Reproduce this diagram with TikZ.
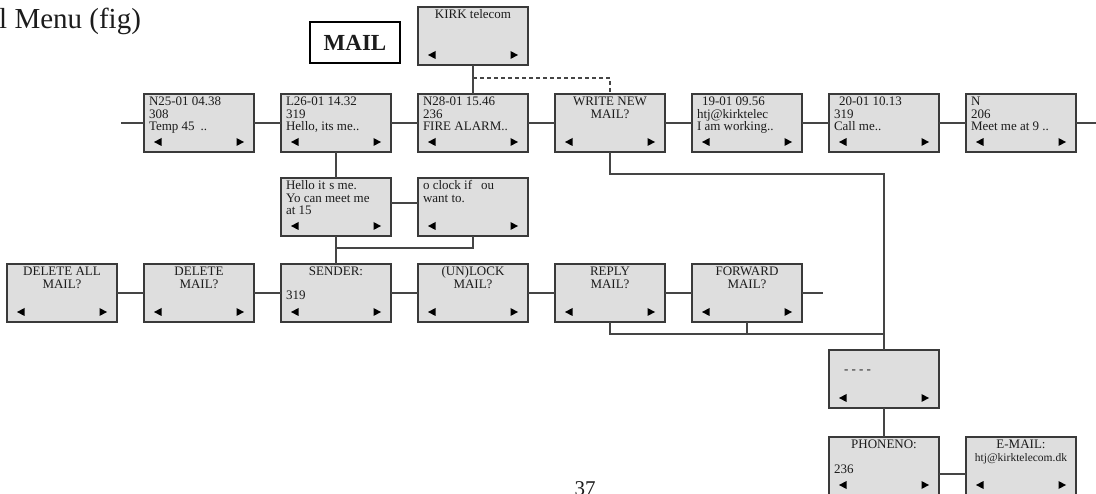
\documentclass[tikz,border=0pt]{standalone}
\usepackage{fontspec}
\setmainfont{Liberation Serif}
\definecolor{boxfill}{HTML}{DEDEDE}
\definecolor{boxline}{HTML}{3A3A3A}
\definecolor{wirec}{HTML}{454545}
\definecolor{ink}{HTML}{1C1C1C}
\newcommand\tstrut{\rule{0pt}{10pt}}
\tikzset{
 screen/.style={draw=boxline, fill=boxfill, line width=1.2pt, minimum width=110pt, minimum height=58pt,
   inner sep=0pt, outer sep=0pt, anchor=north west,
   path picture={
     \fill[black] ([xshift=10pt,yshift=10pt]path picture bounding box.south west) -- ++(7.5pt,4pt) -- ++(0pt,-8pt) -- cycle;
     \fill[black] ([xshift=-10pt,yshift=10pt]path picture bounding box.south east) -- ++(-7.5pt,4pt) -- ++(0pt,-8pt) -- cycle;}},
 scrtext/.style={inner sep=0pt, outer sep=0pt, text=ink, font=\fontsize{13}{12.3}\selectfont},
 lefttext/.style={scrtext, anchor=north west, align=left},
 midtext/.style={scrtext, anchor=north, align=center},
 wire/.style={draw=wirec, line width=1.2pt},
}
\newcommand\scrL[4]{\node[screen] (#1) at (#2,#3) {};
 \node[lefttext] (#1-t) at ([xshift=5pt,yshift=-2pt]#1.north west) {\tstrut #4};}
\newcommand\scrC[4]{\node[screen] (#1) at (#2,#3) {};
 \node[midtext] (#1-t) at ([yshift=-2pt]#1.north) {\tstrut #4};}
\begin{document}
\begin{tikzpicture}[x=1pt,y=-1pt]
\useasboundingbox (0,0) rectangle (1096,494);
\clip (0,0) rectangle (1096,494);

% title and page number
\node[anchor=base west, inner sep=0pt, text=ink, font=\fontsize{29}{29}\selectfont] (title) at (-1,29) {l Menu (fig)};
\node[anchor=base, inner sep=0pt, text=ink, font=\fontsize{21}{21}\selectfont] (pageno) at (585,496) {37};

% MAIL label
\node[draw=black, line width=2pt, fill=white, minimum width=90pt, minimum height=41pt, inner sep=0pt,
  text=ink, font=\fontsize{23}{23}\selectfont\bfseries] (mail) at (355,42.5) {MAIL};

% top screen
\scrC{kirk}{418}{7}{KIRK telecom}

% row 1
\scrL{n25}{144}{94}{N25-01 04.38\\308\\Temp 45\hspace{6pt}..}
\scrL{l26}{281}{94}{L26-01 14.32\\319\\Hello, its me..}
\scrL{n28}{418}{94}{N28-01 15.46\\236\\FIRE ALARM..}
\scrC{wnm}{555}{94}{WRITE NEW\\MAIL?}
\scrL{m19}{692}{94}{\hspace*{5pt}19-01 09.56\\htj@kirktelec\\I am working..}
\scrL{m20}{829}{94}{\hspace*{5pt}20-01 10.13\\319\\Call me..}
\scrL{mn}{966}{94}{N\\206\\Meet me at 9 ..}

% row 2
\scrL{hello}{281}{178}{Hello it\hspace{4pt}s me.\\Yo can meet me\\at 15}
\scrL{oclk}{418}{178}{o clock if\hspace{9pt}ou\\want to.}

% row 3
\scrC{dall}{7}{264}{DELETE ALL\\MAIL?}
\scrC{del}{144}{264}{DELETE\\MAIL?}
\scrC{snd}{281}{264}{SENDER:}
\node[scrtext, anchor=base west] (snd-n) at ([xshift=5pt,yshift=-36pt]snd.north west) {319};
\scrC{unl}{418}{264}{(UN)LOCK\\MAIL?}
\scrC{rep}{555}{264}{REPLY\\MAIL?}
\scrC{fwd}{692}{264}{FORWARD\\MAIL?}

% right column
\node[screen] (dsh) at (829,350) {};
\node[scrtext, anchor=base west] (dsh-t) at ([xshift=15pt,yshift=-24pt]dsh.north west) {- - - -};
\scrC{phn}{829}{437}{PHONENO:}
\node[scrtext, anchor=base west] (phn-n) at ([xshift=5pt,yshift=-36pt]phn.north west) {236};
\scrC{eml}{966}{437}{E-MAIL:\\{\fontsize{11.5}{12.3}\selectfont htj@kirktelecom.dk}}

% coordinates for free ends and junctions
\coordinate (lstart) at (121,123);
\coordinate (rend) at (1096,123);
\coordinate (dk) at (473,78);
\coordinate (j1) at (336,248);
\coordinate (j2) at (884,174);
\coordinate (j3) at (884,334);
\coordinate (fend) at (823,293);

% row 1 connectors
\draw[wire] (lstart) -- (n25.west);
\draw[wire] (n25.east) -- (l26.west);
\draw[wire] (l26.east) -- (n28.west);
\draw[wire] (n28.east) -- (wnm.west);
\draw[wire] (wnm.east) -- (m19.west);
\draw[wire] (m19.east) -- (m20.west);
\draw[wire] (m20.east) -- (mn.west);
\draw[wire] (mn.east) -- (rend);

% top connectors
\draw[wire] (kirk.south) -- (n28.north);
\draw[wire, dash pattern=on 4pt off 3pt] (dk) -| (wnm.north);

% row 2 connectors
\draw[wire] (l26.south) -- (hello.north);
\draw[wire] ([yshift=4pt]hello.east) -- ([yshift=4pt]oclk.west);
\draw[wire] (hello.south) -- (snd.north);
\draw[wire] (oclk.south) |- (j1);

% row 3 connectors
\draw[wire] (dall.east) -- (del.west);
\draw[wire] (del.east) -- (snd.west);
\draw[wire] (snd.east) -- (unl.west);
\draw[wire] (unl.east) -- (rep.west);
\draw[wire] (rep.east) -- (fwd.west);
\draw[wire] (fwd.east) -- (fend);

% right-hand connectors
\draw[wire] (wnm.south) |- (j2) -- (dsh.north);
\draw[wire] (rep.south) |- (j3);
\draw[wire] (fwd.south) -- (fwd.south |- j3);
\draw[wire] (dsh.south) -- (phn.north);
\draw[wire] ([yshift=-8pt]phn.east) -- ([yshift=-8pt]eml.west);
\end{tikzpicture}
\end{document}
